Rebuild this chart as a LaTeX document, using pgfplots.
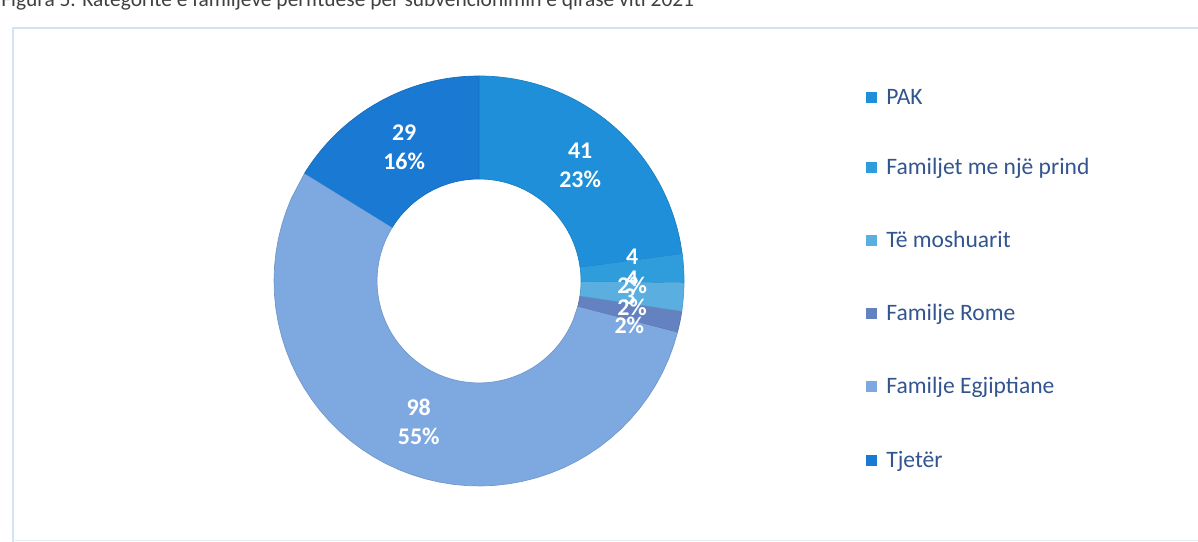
\documentclass[border=0pt]{standalone}
\usepackage{pgfplots}
\pgfplotsset{compat=1.18}
\usepackage{fontspec}
\setmainfont{Carlito}
\definecolor{cPAK}{HTML}{1E8FD8}
\definecolor{cNje}{HTML}{2F9CDC}
\definecolor{cMos}{HTML}{5AAEE0}
\definecolor{cRom}{HTML}{6482C0}
\definecolor{cEgj}{HTML}{7EA9E0}
\definecolor{cTje}{HTML}{1A79D3}
\definecolor{legtext}{HTML}{33558F}
\definecolor{frame}{HTML}{D3E3F4}
\definecolor{titletext}{HTML}{404040}
\tikzset{lab/.style={text=white, align=center, inner sep=0pt,
    font=\bfseries\fontsize{13.6}{16.5}\selectfont}}

% data
\def\vA{41}\def\vB{4}\def\vC{4}\def\vD{3}\def\vE{98}\def\vF{29}
\pgfmathsetmacro\T{\vA+\vB+\vC+\vD+\vE+\vF}
\pgfmathsetmacro\aA{90}
\pgfmathsetmacro\aB{\aA-(\vA/\T)*360}
\pgfmathsetmacro\aC{\aB-(\vB/\T)*360}
\pgfmathsetmacro\aD{\aC-(\vC/\T)*360}
\pgfmathsetmacro\aE{\aD-(\vD/\T)*360}
\pgfmathsetmacro\aF{\aE-(\vE/\T)*360}
\pgfmathsetmacro\aG{\aF-(\vF/\T)*360}
\pgfmathtruncatemacro\pA{round((\vA/\T)*100)}
\pgfmathtruncatemacro\pB{round((\vB/\T)*100)}
\pgfmathtruncatemacro\pC{round((\vC/\T)*100)}
\pgfmathtruncatemacro\pD{round((\vD/\T)*100)}
\pgfmathtruncatemacro\pE{round((\vE/\T)*100)}
\pgfmathtruncatemacro\pF{round((\vF/\T)*100)}

\def\cx{479}\def\cy{261}\def\Ro{205}\def\Ri{102}\def\Rm{153.5}

\newcommand\slice[3]{%
\addplot[fill=#3, draw=#3!90!black, line width=0.4pt,
  samples at={0,0.02,...,0.98,0.9999,1,1.02,...,1.98,2}, variable=\t]
  ({\cx+((\t<1)?\Ro:\Ri)*cos(#1+(#2-#1)*min(\t,2-\t))},
   {\cy+((\t<1)?\Ro:\Ri)*sin(#1+(#2-#1)*min(\t,2-\t))});}
\newcommand\lab[3]{%
\node[lab] at (axis cs:{\cx+\Rm*cos((#1+#2)/2)},{\cy+\Rm*sin((#1+#2)/2)}) {#3};}
\newcommand\leg[3]{%
\addplot[only marks, mark=square*, mark size=2.9pt, color=#2] coordinates {(871,#1)};
\node[anchor=base west, inner sep=0pt, text=legtext, font=\fontsize{13.4}{15}\selectfont]
  at (axis cs:886,#1-7.8) {#3};}

\begin{document}
\begin{tikzpicture}
\begin{axis}[name=ax, hide axis, scale only axis, clip=false,
  width=23.96cm, height=10.84cm, xmin=0, xmax=1198, ymin=0, ymax=542]
% frame
\draw[frame, line width=1.2pt] (axis cs:13,-5) -- (axis cs:13,514) -- (axis cs:1205,514);
\draw[frame!60!white, line width=0.8pt] (axis cs:13,1.5) -- (axis cs:1205,1.5);
% title (cut at top)
\node[anchor=base west, inner sep=0pt, text=titletext, font=\fontsize{12.2}{14}\selectfont]
  at (axis cs:1,535) {Figura 5. Kategoritë e familjeve përfituese për subvencionimin e qirasë viti 2021};
% donut
\slice{\aA}{\aB}{cPAK}
\slice{\aB}{\aC}{cNje}
\slice{\aC}{\aD}{cMos}
\slice{\aD}{\aE}{cRom}
\slice{\aE}{\aF}{cEgj}
\slice{\aF}{\aG}{cTje}
\lab{\aA}{\aB}{\vA\\\pA\%}
\lab{\aB}{\aC}{\vB\\\pB\%}
\lab{\aC}{\aD}{\vC\\\pC\%}
\lab{\aD}{\aE}{\vD\\\pD\%}
\lab{\aE}{\aF}{\vE\\\pE\%}
\lab{\aF}{\aG}{\vF\\\pF\%}
% legend
\leg{445}{cPAK}{PAK}
\leg{375}{cNje}{Familjet me një prind}
\leg{302}{cMos}{Të moshuarit}
\leg{229}{cRom}{Familje Rome}
\leg{156}{cEgj}{Familje Egjiptiane}
\leg{82}{cTje}{Tjetër}
\end{axis}
\pgfresetboundingbox
\path[use as bounding box] (ax.south west) rectangle (ax.north east);
\end{tikzpicture}
\end{document}
